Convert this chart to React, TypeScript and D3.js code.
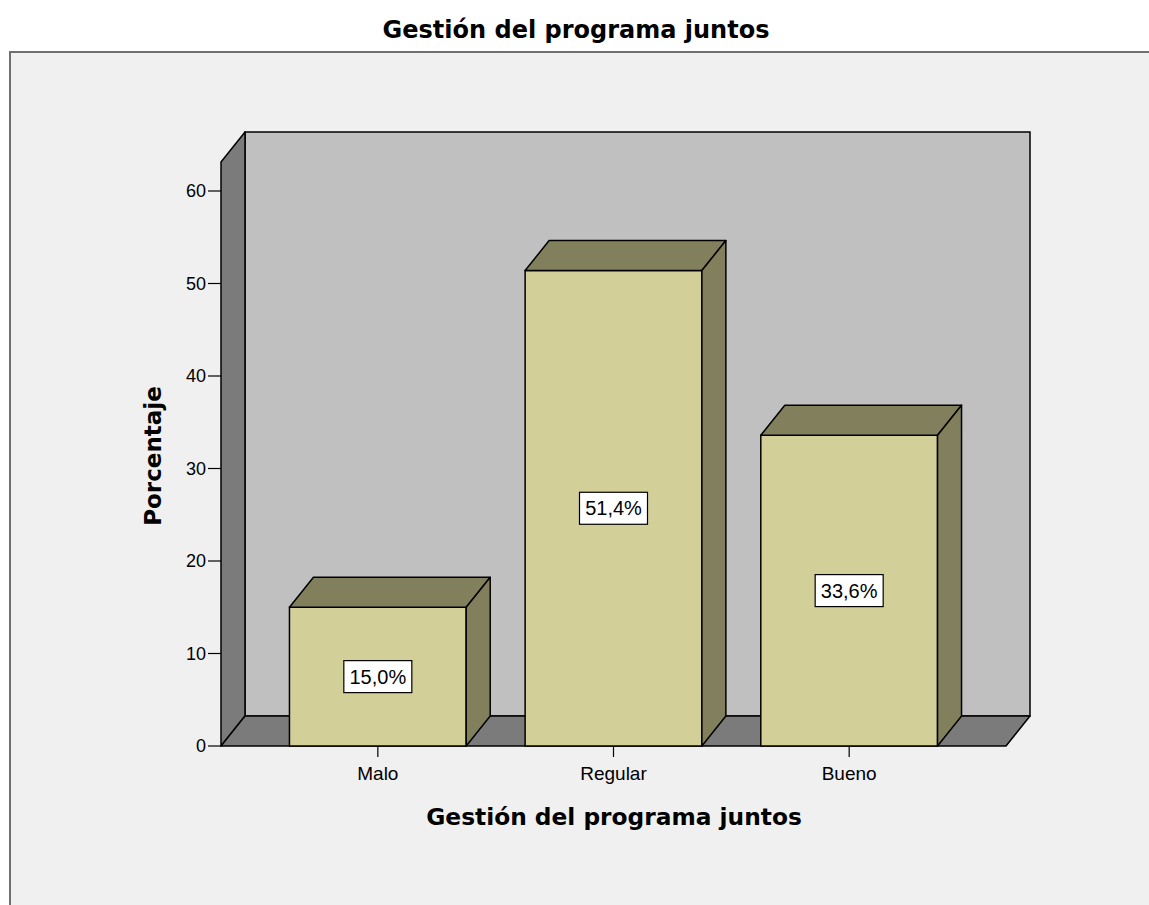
import * as d3 from 'd3';

const categories = ['Malo', 'Regular', 'Bueno'];
const percentages = [15.0, 51.4, 33.6];
const valueLabels = ['15,0%', '51,4%', '33,6%'];
const yTicks = [0, 10, 20, 30, 40, 50, 60];

const chartTitle = 'Gestión del programa juntos';
const xTitle = 'Gestión del programa juntos';
const yTitle = 'Porcentaje';

const W = 1149;
const H = 905;
const DX = 24;
const DY = -30;
const FONT = '"Liberation Sans", Arial, sans-serif';
const BOLD = '"DejaVu Sans", Verdana, sans-serif';

export default function App() {
  const y = d3.scaleLinear().domain([0, 60]).range([746, 191]);
  const x = d3.scaleBand<string>().domain(categories).range([260, 967]).paddingInner(0.25).paddingOuter(0.125);

  const left = 221;
  const right = 1006;
  const base = y(0);
  const wallTop = 162;

  const pts = (p: [number, number][]) => p.map(d => d.join(',')).join(' ');

  return (
    <svg width={W} height={H} style={{ position: 'absolute', left: 0, top: 0, background: '#fff' }}>
      <rect x={10} y={52} width={1200} height={900} fill="#f0f0f0" stroke="#6f6f6f" strokeWidth={2} />
      <text x={576} y={38} textAnchor="middle" fontFamily={BOLD} fontWeight="bold" fontSize={24}>
        {chartTitle}
      </text>

      {/* back wall */}
      <rect x={left + DX} y={wallTop + DY} width={right - left} height={base - wallTop} fill="#c0c0c0" stroke="#000" strokeWidth={1.5} />
      {/* left wall */}
      <polygon
        points={pts([[left, base], [left, wallTop], [left + DX, wallTop + DY], [left + DX, base + DY]])}
        fill="#7b7b7b" stroke="#000" strokeWidth={1.5} strokeLinejoin="round"
      />
      {/* floor */}
      <polygon
        points={pts([[left, base], [right, base], [right + DX, base + DY], [left + DX, base + DY]])}
        fill="#7b7b7b" stroke="#000" strokeWidth={1.5} strokeLinejoin="round"
      />

      {/* y axis ticks */}
      {yTicks.map(t => (
        <g key={t}>
          <line x1={left - 13} x2={left} y1={y(t)} y2={y(t)} stroke="#000" strokeWidth={1.2} />
          <text x={left - 15} y={y(t)} dy="0.36em" textAnchor="end" fontFamily={FONT} fontSize={18}>{t}</text>
        </g>
      ))}

      {/* bars */}
      {categories.map((c, i) => {
        const x0 = x(c)!;
        const x1 = x0 + x.bandwidth();
        const yt = y(percentages[i]);
        const mid = (yt + base) / 2;
        const cx = x0 + x.bandwidth() / 2;
        return (
          <g key={c}>
            <rect x={x0} y={yt} width={x1 - x0} height={base - yt} fill="#d3cf98" stroke="#000" strokeWidth={1.5} />
            <polygon
              points={pts([[x0, yt], [x0 + DX, yt + DY], [x1 + DX, yt + DY], [x1, yt]])}
              fill="#827f5c" stroke="#000" strokeWidth={1.5} strokeLinejoin="round"
            />
            <polygon
              points={pts([[x1, yt], [x1 + DX, yt + DY], [x1 + DX, base + DY], [x1, base]])}
              fill="#827f5c" stroke="#000" strokeWidth={1.5} strokeLinejoin="round"
            />
            <rect x={cx - 34} y={mid - 16} width={68} height={32} fill="#fff" stroke="#000" strokeWidth={1.2} />
            <text x={cx} y={mid} dy="0.36em" textAnchor="middle" fontFamily={FONT} fontSize={20}>{valueLabels[i]}</text>
            <line x1={cx} x2={cx} y1={base} y2={base + 11} stroke="#000" strokeWidth={1.2} />
            <text x={cx} y={base + 34} textAnchor="middle" fontFamily={FONT} fontSize={19}>{c}</text>
          </g>
        );
      })}

      <text x={614} y={825} textAnchor="middle" fontFamily={BOLD} fontWeight="bold" fontSize={23.3}>{xTitle}</text>
      <text transform="translate(161,456) rotate(-90)" textAnchor="middle" fontFamily={BOLD} fontWeight="bold" fontSize={23}>{yTitle}</text>
    </svg>
  );
}
